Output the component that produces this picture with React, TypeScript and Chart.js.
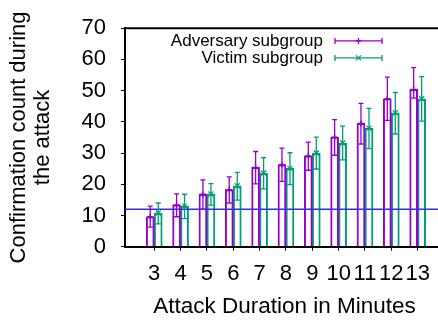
import React, { useEffect, useRef } from 'react';
import { Chart, registerables } from 'chart.js';

Chart.register(...registerables);

// ---- data ----
const MINUTES = [3, 4, 5, 6, 7, 8, 9, 10, 11, 12, 13];
const SERIES_NAMES = ['Adversary subgroup', 'Victim subgroup'];
const ADV_MEAN = [9.6, 13.4, 16.8, 18.3, 25.4, 26.3, 29.1, 35.1, 39.5, 47.4, 50.4];
const ADV_LOW = [6.3, 9.6, 12.0, 14.0, 20.1, 20.9, 24.5, 29.3, 32.9, 40.5, 47.6];
const ADV_HIGH = [13.0, 16.9, 21.4, 22.4, 30.5, 31.6, 33.5, 40.7, 45.9, 54.3, 57.4];
const VIC_MEAN = [10.8, 13.0, 16.9, 19.5, 23.6, 25.1, 30.0, 33.2, 38.0, 42.9, 47.4];
const VIC_LOW = [7.3, 9.0, 13.3, 14.9, 18.5, 19.9, 24.9, 27.8, 31.4, 36.1, 40.2];
const VIC_HIGH = [14.0, 16.8, 20.2, 23.8, 28.5, 30.1, 35.1, 38.6, 44.3, 49.4, 54.5];
const THRESHOLD = 12;
const Y_MIN = 0;
const Y_MAX = 70;
const Y_STEP = 10;
const X_MIN = 1.89;
const X_MAX = 14;
const Y_TITLE = ['Confirmation count during', 'the attack'];
const X_TITLE = 'Attack Duration in Minutes';

// ---- style ----
const PURPLE = '#9400d3';
const GREEN = '#009e73';
const BLUE = '#3030ec';
const FONT = '"Liberation Sans", Arial, Helvetica, sans-serif';

export default function App() {
  const ref = useRef<HTMLCanvasElement>(null);

  useEffect(() => {
    const canvas = ref.current;
    if (!canvas) return;
    const lows = [ADV_LOW, VIC_LOW];
    const highs = [ADV_HIGH, VIC_HIGH];
    const colors = [PURPLE, GREEN];

    const drawMarker = (ctx: CanvasRenderingContext2D, kind: number, x: number, y: number, s: number) => {
      ctx.beginPath();
      if (kind === 0) {
        ctx.moveTo(x - s, y); ctx.lineTo(x + s, y);
        ctx.moveTo(x, y - s); ctx.lineTo(x, y + s);
      } else {
        ctx.moveTo(x - s, y - s); ctx.lineTo(x + s, y + s);
        ctx.moveTo(x - s, y + s); ctx.lineTo(x + s, y - s);
      }
      ctx.stroke();
    };

    const overlay = {
      id: 'overlay',
      afterDatasetsDraw(chart: any) {
        const ctx: CanvasRenderingContext2D = chart.ctx;
        const { left, right, top } = chart.chartArea;
        const ys = chart.scales.y;
        ctx.save();
        // threshold line
        const ty = ys.getPixelForValue(THRESHOLD);
        ctx.strokeStyle = BLUE;
        ctx.lineWidth = 1.4;
        ctx.beginPath();
        ctx.moveTo(left, ty);
        ctx.lineTo(right, ty);
        ctx.stroke();
        // error bars + markers
        for (let d = 0; d < 2; d++) {
          const meta = chart.getDatasetMeta(d);
          ctx.strokeStyle = colors[d];
          ctx.lineWidth = 1.3;
          meta.data.forEach((bar: any, j: number) => {
            const x = bar.x;
            const yl = ys.getPixelForValue(lows[d][j]);
            const yh = ys.getPixelForValue(highs[d][j]);
            ctx.beginPath();
            ctx.moveTo(x, yl); ctx.lineTo(x, yh);
            ctx.moveTo(x - 2.5, yl); ctx.lineTo(x + 2.5, yl);
            ctx.moveTo(x - 2.5, yh); ctx.lineTo(x + 2.5, yh);
            ctx.stroke();
            drawMarker(ctx, d, x, bar.y, d === 0 ? 3 : 2.5);
          });
        }
        // top frame
        ctx.strokeStyle = '#000';
        ctx.lineWidth = 2;
        ctx.beginPath();
        ctx.moveTo(left - 1, top);
        ctx.lineTo(right, top);
        ctx.stroke();
        // legend
        ctx.font = `17px ${FONT}`;
        ctx.textAlign = 'right';
        ctx.textBaseline = 'middle';
        for (let d = 0; d < 2; d++) {
          const ly = top + 12.7 + d * 17;
          ctx.fillStyle = '#000';
          ctx.fillText(SERIES_NAMES[d], left + 198, ly + 0.7);
          const x0 = left + 210;
          const x1 = left + 257;
          ctx.strokeStyle = colors[d];
          ctx.lineWidth = 1.3;
          ctx.beginPath();
          ctx.moveTo(x0, ly); ctx.lineTo(x1, ly);
          ctx.moveTo(x0, ly - 3); ctx.lineTo(x0, ly + 3);
          ctx.moveTo(x1, ly - 3); ctx.lineTo(x1, ly + 3);
          ctx.stroke();
          drawMarker(ctx, d, (x0 + x1) / 2, ly, d === 0 ? 3 : 2.5);
        }
        ctx.restore();
      },
    };

    const yTicks: number[] = [];
    for (let v = Y_MIN; v <= Y_MAX; v += Y_STEP) yTicks.push(v);

    const chart = new Chart(canvas, {
      type: 'bar',
      data: {
        datasets: [
          {
            label: SERIES_NAMES[0],
            data: MINUTES.map((m, i) => ({ x: m, y: ADV_MEAN[i] })),
            borderColor: PURPLE,
            backgroundColor: 'rgba(0,0,0,0)',
            borderWidth: 1.3,
            barThickness: 8,
          },
          {
            label: SERIES_NAMES[1],
            data: MINUTES.map((m, i) => ({ x: m, y: VIC_MEAN[i] })),
            borderColor: GREEN,
            backgroundColor: 'rgba(0,0,0,0)',
            borderWidth: 1.3,
            barThickness: 8,
          },
        ],
      },
      options: {
        responsive: false,
        animation: false,
        devicePixelRatio: 1,
        layout: { padding: { top: 15, left: 0, right: 0, bottom: 0 } },
        plugins: { legend: { display: false }, tooltip: { enabled: false } },
        scales: {
          x: {
            type: 'linear',
            offset: false,
            min: X_MIN,
            max: X_MAX,
            afterBuildTicks: (s: any) => { s.ticks = MINUTES.map((v) => ({ value: v })); },
            afterFit: (s: any) => { s.height = 78.3; },
            grid: { offset: false, drawOnChartArea: false, drawTicks: true, tickLength: 4, color: '#000', lineWidth: 1 },
            border: { display: true, color: '#000', width: 2 },
            ticks: { autoSkip: false, maxRotation: 0, color: '#000', padding: 10.5, font: { family: FONT, size: 22 } },
            title: { display: true, text: X_TITLE, color: '#000', font: { family: FONT, size: 22.5 }, padding: { top: 0, bottom: 5 } },
          },
          y: {
            min: Y_MIN,
            max: Y_MAX,
            afterBuildTicks: (s: any) => { s.ticks = yTicks.map((v) => ({ value: v })); },
            afterFit: (s: any) => { s.width = 125; },
            grid: { drawOnChartArea: false, drawTicks: true, tickLength: 4, color: '#000', lineWidth: 1 },
            border: { display: true, color: '#000', width: 2 },
            ticks: { color: '#000', padding: 15, font: { family: FONT, size: 22 } },
            title: { display: true, text: Y_TITLE, color: '#000', font: { family: FONT, size: 22, lineHeight: 24 / 22 }, padding: { top: 6.8, bottom: 0 } },
          },
        },
      },
      plugins: [overlay],
    } as any);

    return () => chart.destroy();
  }, []);

  return (
    <div style={{ position: 'fixed', left: 0, top: 0, width: 438, height: 325, overflow: 'hidden', background: '#fff' }}>
      <canvas ref={ref} width={444} height={325} style={{ display: 'block', width: 444, height: 325 }} />
    </div>
  );
}
